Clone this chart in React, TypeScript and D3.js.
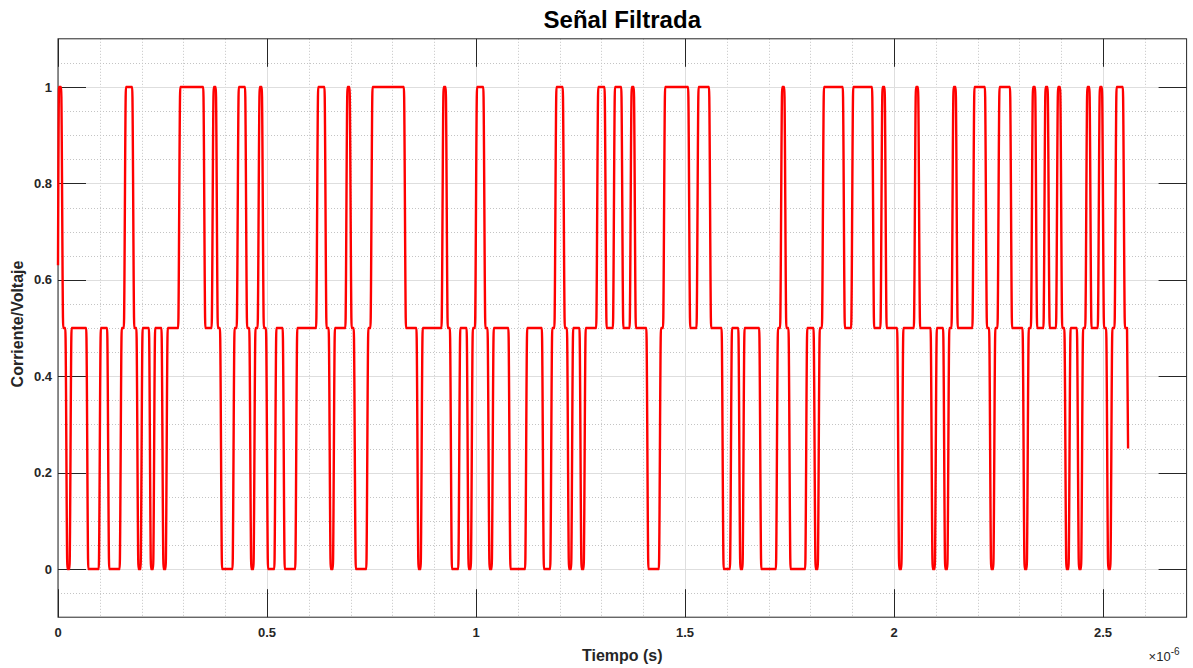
import React from "react";
import * as d3 from "d3";

const W = 1193;
const H = 668;

// symbol duration (µs) and filtered levels per symbol, run-length encoded [level, count]
const SLOT_US = 0.01;
const START_LEVEL = 0.63;
const END_LEVEL = 0.25;
const RUNS: [number, number][] = [
  [1, 1], [0.5, 1], [0, 1], [0.5, 4], [0, 3], [0.5, 2], [0, 3], [0.5, 1], [1, 2], [0.5, 1],
  [0, 1], [0.5, 2], [0, 1], [0.5, 2], [0, 1], [0.5, 3], [1, 6], [0.5, 2], [1, 1], [0.5, 1],
  [0, 3], [0.5, 1], [1, 2], [0.5, 1], [0, 1], [0.5, 1], [1, 1], [0.5, 1], [0, 2], [0.5, 2],
  [0, 3], [0.5, 5], [1, 2], [0.5, 1], [0, 1], [0.5, 3], [1, 1], [0.5, 1], [0, 3], [0.5, 1],
  [1, 8], [0.5, 3], [0, 1], [0.5, 5], [1, 1], [0.5, 1], [0, 2], [0.5, 2], [0, 1], [0.5, 1],
  [1, 2], [0.5, 1], [0, 1], [0.5, 4], [0, 4], [0.5, 4], [0, 2], [0.5, 1], [1, 2], [0.5, 1],
  [0, 1], [0.5, 2], [0, 1], [0.5, 3], [1, 2], [0.5, 2], [1, 2], [0.5, 2], [1, 1], [0.5, 3],
  [0, 3], [0.5, 1], [1, 6], [0.5, 2], [1, 3], [0.5, 3], [0, 2], [0.5, 2], [0, 1], [0.5, 4],
  [0, 4], [0.5, 1], [1, 1], [0.5, 1], [0, 4], [0.5, 2], [0, 1], [0.5, 1], [1, 5], [0.5, 2],
  [1, 5], [0.5, 2], [1, 1], [0.5, 3], [0, 1], [0.5, 3], [1, 1], [0.5, 3], [0, 1], [0.5, 2],
  [0, 1], [0.5, 1], [1, 1], [0.5, 4], [1, 3], [0.5, 1], [0, 1], [0.5, 1], [1, 3], [0.5, 3],
  [0, 1], [0.5, 1], [1, 1], [0.5, 2], [1, 1], [0.5, 2], [1, 1], [0.5, 1], [0, 1], [0.5, 2],
  [0, 1], [0.5, 1], [1, 1], [0.5, 2], [1, 1], [0.5, 1], [0, 1], [0.5, 1], [1, 2], [0.5, 1],
];

const X_DOMAIN: [number, number] = [0, 2.7];
const Y_DOMAIN: [number, number] = [-0.1, 1.1];
const X_TICKS = [0, 0.5, 1, 1.5, 2, 2.5];
const X_TICK_LABELS = ["0", "0.5", "1", "1.5", "2", "2.5"];
const Y_TICKS = [0, 0.2, 0.4, 0.6, 0.8, 1];
const Y_TICK_LABELS = ["0", "0.2", "0.4", "0.6", "0.8", "1"];

const TITLE = "Señal Filtrada";
const X_LABEL = "Tiempo (s)";
const Y_LABEL = "Corriente/Voltaje";

const FONT = "'Liberation Sans', Arial, Helvetica, sans-serif";
const AXIS_COLOR = "#262626";

export default function App() {
  const left = 58, right = 1186.6, top = 38.8, bottom = 617.2;
  const x = d3.scaleLinear().domain(X_DOMAIN).range([left, right]);
  const y = d3.scaleLinear().domain(Y_DOMAIN).range([bottom, top]);

  const pts: [number, number][] = [[0, START_LEVEL]];
  let k = 0;
  for (const [v, n] of RUNS) {
    for (let i = 0; i < n; i++) {
      pts.push([(k + 0.25) * SLOT_US, v], [(k + 0.75) * SLOT_US, v]);
      k++;
    }
  }
  pts.push([k * SLOT_US, END_LEVEL]);

  const line = d3
    .line<[number, number]>()
    .x((d) => x(d[0]))
    .y((d) => y(d[1]))
    .curve(d3.curveMonotoneX);

  const xMinor = d3.range(1, 27).filter((i) => i % 5 !== 0).map((i) => i / 10);
  const yMinor = d3.range(-1, 22).filter((i) => i % 4 !== 0).map((i) => i * 0.05);
  const tickLen = 28;

  return (
    <svg
      width={W}
      height={H}
      style={{ position: "absolute", left: 0, top: 0, background: "#fff" }}
      fontFamily={FONT}
    >
      <rect x={0} y={0} width={W} height={H} fill="#ffffff" />
      {/* minor grid */}
      <g stroke="#c4c4c4" strokeWidth={1} strokeDasharray="1,2">
        {xMinor.map((v) => (
          <line key={"xm" + v} x1={Math.round(x(v)) + 0.5} x2={Math.round(x(v)) + 0.5} y1={top} y2={bottom} />
        ))}
        {yMinor.map((v) => (
          <line key={"ym" + v} y1={Math.round(y(v)) + 0.5} y2={Math.round(y(v)) + 0.5} x1={left} x2={right} />
        ))}
      </g>
      {/* major grid */}
      <g stroke="#dedede" strokeWidth={1}>
        {X_TICKS.map((v) => (
          <line key={"xg" + v} x1={Math.round(x(v)) + 0.5} x2={Math.round(x(v)) + 0.5} y1={top} y2={bottom} />
        ))}
        {Y_TICKS.map((v) => (
          <line key={"yg" + v} y1={Math.round(y(v)) + 0.5} y2={Math.round(y(v)) + 0.5} x1={left} x2={right} />
        ))}
      </g>
      {/* ticks */}
      <g stroke={AXIS_COLOR} strokeWidth={1}>
        {X_TICKS.map((v) => {
          const px = Math.round(x(v)) + 0.5;
          return (
            <g key={"xt" + v}>
              <line x1={px} x2={px} y1={bottom} y2={bottom - tickLen} />
              <line x1={px} x2={px} y1={top} y2={top + tickLen} />
            </g>
          );
        })}
        {Y_TICKS.map((v) => {
          const py = Math.round(y(v)) + 0.5;
          return (
            <g key={"yt" + v}>
              <line x1={left} x2={left + tickLen} y1={py} y2={py} />
              <line x1={right} x2={right - tickLen} y1={py} y2={py} />
            </g>
          );
        })}
      </g>
      <rect x={left} y={top} width={right - left} height={bottom - top} fill="none" stroke={AXIS_COLOR} strokeWidth={1} />
      {/* data */}
      <path d={line(pts) || ""} fill="none" stroke="#ff0000" strokeWidth={2.4} strokeLinejoin="round" />
      {/* tick labels */}
      <g fontSize={13} fontWeight="bold" fill={AXIS_COLOR}>
        {X_TICKS.map((v, i) => (
          <text key={"xl" + v} x={x(v)} y={bottom + 20} textAnchor="middle">
            {X_TICK_LABELS[i]}
          </text>
        ))}
        {Y_TICKS.map((v, i) => (
          <text key={"yl" + v} x={left - 6} y={y(v) + 4.5} textAnchor="end">
            {Y_TICK_LABELS[i]}
          </text>
        ))}
      </g>
      <text x={right - 38} y={H - 7} fontSize={13} fill={AXIS_COLOR}>
        ×10<tspan dy={-6} fontSize={10}>-6</tspan>
      </text>
      <text x={(left + right) / 2} y={H - 7} fontSize={16} fontWeight="bold" fill={AXIS_COLOR} textAnchor="middle">
        {X_LABEL}
      </text>
      <text
        transform={`translate(23, ${(top + bottom) / 2 - 4}) rotate(-90)`}
        fontSize={16}
        fontWeight="bold"
        fill={AXIS_COLOR}
        textAnchor="middle"
      >
        {Y_LABEL}
      </text>
      <text x={(left + right) / 2} y={28} fontSize={24} fontWeight="bold" fill="#000" textAnchor="middle">
        {TITLE}
      </text>
    </svg>
  );
}
